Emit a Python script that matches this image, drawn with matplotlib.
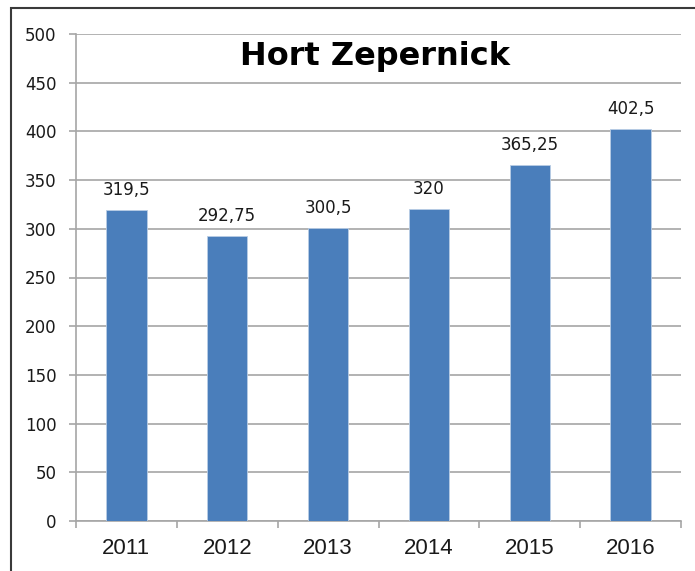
import matplotlib.pyplot as plt
from matplotlib.patches import Rectangle
from matplotlib.ticker import FixedLocator

years = ["2011", "2012", "2013", "2014", "2015", "2016"]
values = [319.5, 292.75, 300.5, 320, 365.25, 402.5]
value_labels = ["319,5", "292,75", "300,5", "320", "365,25", "402,5"]
title = "Hort Zepernick"

grid_grey = "#a6a6a6"
bar_blue = "#4a7ebb"

fig = plt.figure(figsize=(6.95, 5.71), dpi=100)
ax = fig.add_axes([76 / 695, 50 / 571, 605 / 695, 487 / 571])

x = list(range(len(years)))
ax.bar(x, values, width=0.4, color=bar_blue, edgecolor="#b9cde5", linewidth=0.6, zorder=3)

for xi, v, lab in zip(x, values, value_labels):
    ax.annotate(lab, (xi, v), xytext=(0, 8), textcoords="offset points",
                ha="center", va="bottom", fontsize=12, family="DejaVu Sans",
                color="#1a1a1a")

ax.set_xlim(-0.5, len(years) - 0.5)
ax.set_ylim(0, 500)
ax.set_yticks(range(0, 501, 50))
ax.yaxis.grid(True, color=grid_grey, linewidth=1.2, zorder=0)

ax.set_xticks(x)
ax.set_xticklabels(years, fontsize=16, family="Liberation Sans", color="#1a1a1a")
ax.xaxis.set_minor_locator(FixedLocator([i - 0.5 for i in range(len(years) + 1)]))
ax.tick_params(axis="x", which="major", length=0, pad=12)
ax.tick_params(axis="x", which="minor", length=5, width=1.2, color=grid_grey)
ax.tick_params(axis="y", length=5, width=1.2, color=grid_grey, pad=9,
               labelsize=12, labelcolor="#1a1a1a")

for side in ["top", "right"]:
    ax.spines[side].set_visible(False)
for side in ["left", "bottom"]:
    ax.spines[side].set_color(grid_grey)
    ax.spines[side].set_linewidth(1.2)

fig.text(375 / 695, 1 - 57 / 571, title, ha="center", va="center",
         fontsize=23, fontweight="bold", family="DejaVu Sans")

# chart border (only left and top edges are in view)
fig.patches.append(Rectangle((11 / 695, -0.2), 2, 1.2 - 8 / 571, transform=fig.transFigure,
                             fill=False, edgecolor="#3a3a3a", linewidth=1.5))

fig.savefig("out.png", dpi=100)
